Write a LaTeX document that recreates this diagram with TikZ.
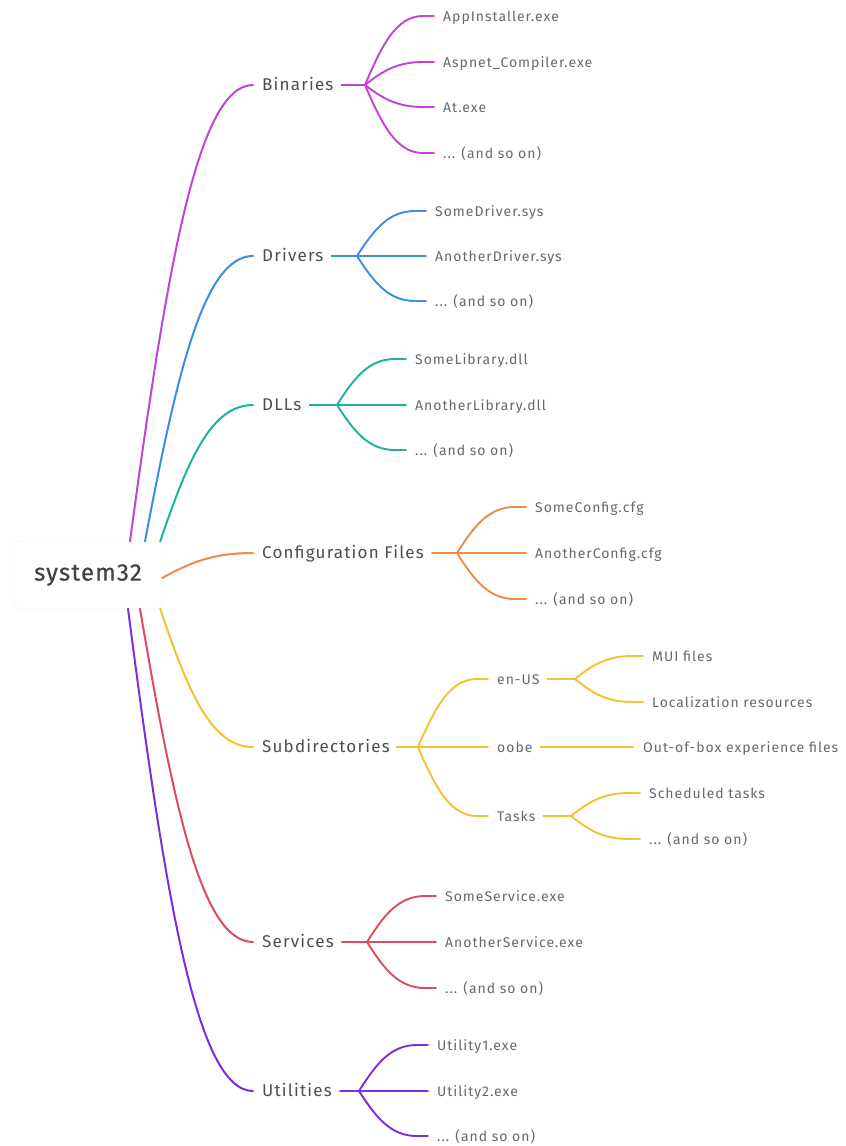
\documentclass[tikz,border=0pt]{standalone}
\usepackage{fontspec}
\setmainfont{Fira Sans}[LetterSpace=7]
\usetikzlibrary{calc}

\definecolor{binC}{HTML}{C441DA}
\definecolor{drvC}{HTML}{3A8EE6}
\definecolor{dllC}{HTML}{1DB39B}
\definecolor{cfgC}{HTML}{EF8B45}
\definecolor{subC}{HTML}{F6C12F}
\definecolor{svcC}{HTML}{DB4D5E}
\definecolor{utlC}{HTML}{7B2FD8}
\definecolor{inkC}{HTML}{4A4F56}

% curve from a start point into the west side of a topic
\newcommand{\limb}[3]{%
  \draw[#1,limb_style] let \p1=(#2), \p2=([xshift=-9pt]#3.west) in
    (\p1) .. controls (\x1+0.3*\x2-0.3*\x1, 0.4*\y1+0.6*\y2) and (0.45*\x1+0.55*\x2, \y2) .. (\p2);}
% curve from a fork into a leaf
\newcommand{\twig}[3]{%
  \draw[#1,twig_style] let \p1=(#2), \p2=([xshift=-20pt]#3.west) in
    (\p1) .. controls (\x1+0.3*\x2-0.3*\x1, 0.4*\y1+0.6*\y2) and (0.45*\x1+0.55*\x2, \y2) .. (\p2)
    -- ([xshift=-9pt]#3.west);}

\begin{document}
\begin{tikzpicture}[x=1pt, y=-1pt,
    root_style/.style={rectangle, rounded corners=4pt, draw=black!5, fill=white,
      minimum width=148pt, minimum height=67pt,
      font=\fontsize{24}{28}\selectfont\addfontfeature{FakeBold=0.6,LetterSpace=5}, text=inkC!85!black},
    topic_style/.style={anchor=west, inner sep=0pt, text height=1em, text depth=0pt,
      font=\fontsize{17}{20}\selectfont, text=inkC},
    leaf_style/.style={anchor=west, inner sep=0pt, text height=1em, text depth=0pt,
      font=\fontsize{14}{17}\selectfont, text=inkC!85},
    limb_style/.style={line width=2pt, line cap=round},
    twig_style/.style={line width=1.9pt, line cap=round}]

    \fill[white] (0,0) rectangle (846,1146);
    \useasboundingbox (0,0) rectangle (846,1146);

    \node[root_style] (sys) at (88,575) {system32};

    % topics
    \node[topic_style] (bin) at (262,85)   {Binaries};
    \node[topic_style] (drv) at (262,256)  {Drivers};
    \node[topic_style] (dll) at (262,405)  {DLLs};
    \node[topic_style] (cfg) at (262,553)  {Configuration Files};
    \node[topic_style] (sub) at (262,747)  {Subdirectories};
    \node[topic_style] (svc) at (262,942)  {Services};
    \node[topic_style] (utl) at (262,1091) {Utilities};

    % forks
    \coordinate (binF) at (365,85);
    \coordinate (drvF) at (357,256);
    \coordinate (dllF) at (337,405);
    \coordinate (cfgF) at (457,553);
    \coordinate (subF) at (418,747);
    \coordinate (svcF) at (367,942);
    \coordinate (utlF) at (359,1091);

    % leaves
    \node[leaf_style] (bin1) at (443,16)  {AppInstaller.exe};
    \node[leaf_style] (bin2) at (443,62)  {Aspnet\_Compiler.exe};
    \node[leaf_style] (bin3) at (443,107) {At.exe};
    \node[leaf_style] (bin4) at (443,153) {... (and so on)};

    \node[leaf_style] (drv1) at (435,211) {SomeDriver.sys};
    \node[leaf_style] (drv2) at (435,256) {AnotherDriver.sys};
    \node[leaf_style] (drv3) at (435,301) {... (and so on)};

    \node[leaf_style] (dll1) at (415,359) {SomeLibrary.dll};
    \node[leaf_style] (dll2) at (415,405) {AnotherLibrary.dll};
    \node[leaf_style] (dll3) at (415,450) {... (and so on)};

    \node[leaf_style] (cfg1) at (535,507) {SomeConfig.cfg};
    \node[leaf_style] (cfg2) at (535,553) {AnotherConfig.cfg};
    \node[leaf_style] (cfg3) at (535,599) {... (and so on)};

    \node[leaf_style] (enus) at (497,679) {en-US};
    \node[leaf_style] (oobe) at (497,747) {oobe};
    \node[leaf_style] (task) at (497,816) {Tasks};
    \coordinate (enusF) at (575,679);
    \coordinate (taskF) at (571,816);
    \node[leaf_style] (enus1) at (652,656) {MUI files};
    \node[leaf_style] (enus2) at (652,702) {Localization resources};
    \node[leaf_style] (oobe1) at (643,747) {Out-of-box experience files};
    \node[leaf_style] (task1) at (649,793) {Scheduled tasks};
    \node[leaf_style] (task2) at (649,839) {... (and so on)};

    \node[leaf_style] (svc1) at (445,896) {SomeService.exe};
    \node[leaf_style] (svc2) at (445,942) {AnotherService.exe};
    \node[leaf_style] (svc3) at (445,988) {... (and so on)};

    \node[leaf_style] (utl1) at (437,1045) {Utility1.exe};
    \node[leaf_style] (utl2) at (437,1091) {Utility2.exe};
    \node[leaf_style] (utl3) at (437,1136) {... (and so on)};

    % root to topics
    \limb{binC}{[xshift=42pt]sys.north}{bin}
    \limb{drvC}{[xshift=57pt]sys.north}{drv}
    \limb{dllC}{[xshift=-2pt]sys.north east}{dll}
    \limb{cfgC}{[yshift=-3pt]sys.east}{cfg}
    \limb{subC}{[xshift=-2pt]sys.south east}{sub}
    \limb{svcC}{[xshift=52pt]sys.south}{svc}
    \limb{utlC}{[xshift=40pt]sys.south}{utl}

    % stubs
    \draw[binC,twig_style] ([xshift=8pt]bin.east) -- (binF);
    \draw[drvC,twig_style] ([xshift=8pt]drv.east) -- (drvF);
    \draw[dllC,twig_style] ([xshift=8pt]dll.east) -- (dllF);
    \draw[cfgC,twig_style] ([xshift=8pt]cfg.east) -- (cfgF);
    \draw[subC,twig_style] ([xshift=7pt]sub.east) -- (subF);
    \draw[svcC,twig_style] ([xshift=8pt]svc.east) -- (svcF);
    \draw[utlC,twig_style] ([xshift=8pt]utl.east) -- (utlF);
    \draw[subC,twig_style] ([xshift=8pt]enus.east) -- (enusF);
    \draw[subC,twig_style] ([xshift=8pt]task.east) -- (taskF);
    \draw[subC,twig_style] ([xshift=8pt]oobe.east) -- ([xshift=-10pt]oobe1.west);

    % forks to leaves
    \twig{binC}{binF}{bin1} \twig{binC}{binF}{bin2}
    \twig{binC}{binF}{bin3} \twig{binC}{binF}{bin4}
    \twig{drvC}{drvF}{drv1} \twig{drvC}{drvF}{drv2} \twig{drvC}{drvF}{drv3}
    \twig{dllC}{dllF}{dll1} \twig{dllC}{dllF}{dll2} \twig{dllC}{dllF}{dll3}
    \twig{cfgC}{cfgF}{cfg1} \twig{cfgC}{cfgF}{cfg2} \twig{cfgC}{cfgF}{cfg3}
    \twig{subC}{subF}{enus} \twig{subC}{subF}{oobe} \twig{subC}{subF}{task}
    \twig{subC}{enusF}{enus1} \twig{subC}{enusF}{enus2}
    \twig{subC}{taskF}{task1} \twig{subC}{taskF}{task2}
    \twig{svcC}{svcF}{svc1} \twig{svcC}{svcF}{svc2} \twig{svcC}{svcF}{svc3}
    \twig{utlC}{utlF}{utl1} \twig{utlC}{utlF}{utl2} \twig{utlC}{utlF}{utl3}

\end{tikzpicture}
\end{document}
